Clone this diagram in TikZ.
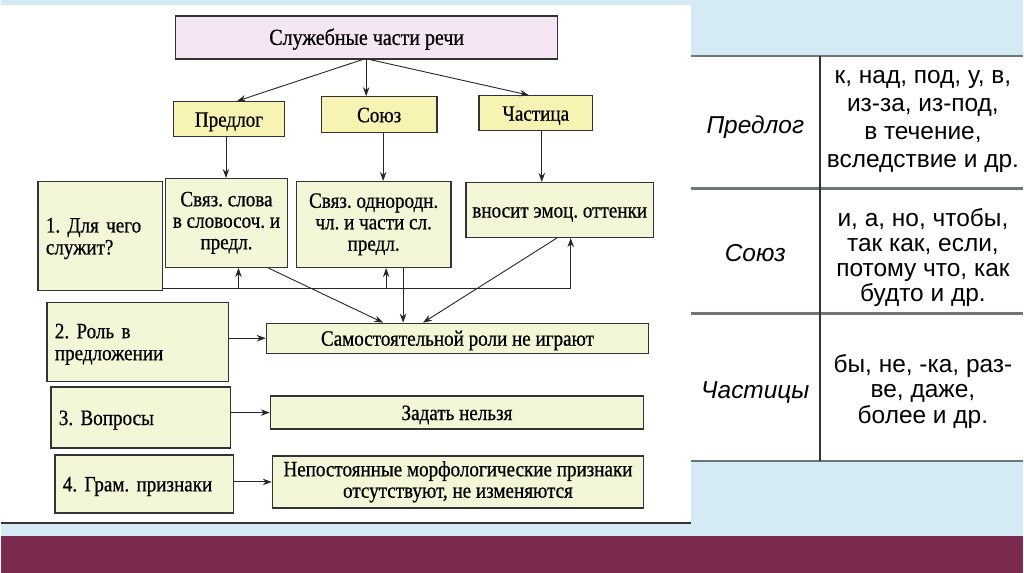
\documentclass[tikz,border=0pt]{standalone}
\usepackage{fontspec}
\setmainfont{Liberation Serif}[FakeStretch=0.87, FakeBold=0.6]
\newfontfamily\tabfont{Liberation Sans}
\usetikzlibrary{arrows.meta}
\definecolor{bgblue}{HTML}{D4EAF5}
\definecolor{maroon}{HTML}{7D2A50}
\definecolor{titlefill}{HTML}{F4E6F2}
\definecolor{hdrfill}{HTML}{F7F4B3}
\definecolor{boxfill}{HTML}{F4F6D8}
\definecolor{boxline}{HTML}{333333}
\definecolor{tabline}{HTML}{6E7677}
\frenchspacing
\begin{document}
\begin{tikzpicture}[x=1pt,y=-1pt,
  struts/.style={execute at begin node={\rule{0pt}{20pt}}, execute at end node={\rule[-5pt]{0pt}{5pt}}},
  cbox/.style={draw=boxline, line width=1.3pt, fill=boxfill, inner sep=0pt, align=center,
    font=\fontsize{22}{21.5}\selectfont, struts},
  lbox/.style={draw=boxline, line width=1.3pt, fill=boxfill, inner xsep=8pt, inner ysep=0pt, align=left,
    font=\fontsize{22}{22}\selectfont, struts},
  arr/.style={line width=0.9pt, draw=black!85, -{Stealth[length=9pt,width=6.5pt]}},
  ln/.style={line width=0.9pt, draw=black!85},
  tabtxt/.style={inner sep=0pt, align=center, text=black}
]
% background
\fill[bgblue] (0,0) rectangle (1024,574);
\fill[white] (0,5) rectangle (692,524);
\draw[boxline, line width=2pt] (0,524) -- (692,524);
\fill[maroon] (0,537) rectangle (1024,574);

% table
\fill[white] (692,56) rectangle (1024,462);
\foreach \yy in {56,189,314,462} \draw[tabline, line width=2.6pt] (692,\yy) -- (1024,\yy);
\draw[boxline, line width=2pt] (821,56) -- (821,462);

\node[tabtxt, font=\tabfont\itshape\fontsize{24.5}{28}\selectfont] (tpl) at (756,127) {Предлог};
\node[tabtxt, font=\tabfont\fontsize{24.5}{28}\selectfont] (tpr) at (924,122) {к, над, под, у, в,\\из-за, из-под,\\в течение,\\вследствие и др.};
\node[tabtxt, font=\tabfont\itshape\fontsize{24.5}{25}\selectfont] (tsl) at (756,254) {Союз};
\node[tabtxt, font=\tabfont\fontsize{24.5}{25}\selectfont] (tsr) at (924,258) {и, а, но, чтобы,\\так как, если,\\потому что, как\\будто и др.};
\node[tabtxt, font=\tabfont\itshape\fontsize{24.5}{25.5}\selectfont] (tcl) at (756,393) {Частицы};
\node[tabtxt, font=\tabfont\fontsize{24.5}{25.5}\selectfont] (tcr) at (924,392) {бы, не, -ка, раз-\\ве, даже,\\более и др.};

% diagram boxes
\node[cbox, fill=titlefill, minimum width=383pt, minimum height=43pt, font=\fontsize{23}{24}\selectfont] (title) at (366.5,37.5) {Служебные части речи};
\node[cbox, fill=hdrfill, minimum width=111pt, minimum height=35pt] (predlog) at (228.5,119.5) {Предлог};
\node[cbox, fill=hdrfill, minimum width=116pt, minimum height=36pt] (soyuz) at (379,115) {Союз};
\node[cbox, fill=hdrfill, minimum width=114pt, minimum height=35pt] (chast) at (536,113.5) {Частица};

\node[lbox, text width=109pt, minimum height=109pt] (b1) at (99.5,236.5) {1. Для чего\\служит?};
\node[cbox, minimum width=122pt, minimum height=89pt] (sv1) at (226,223.5) {Связ. слова\\в словосоч. и\\предл.};
\node[cbox, minimum width=155pt, minimum height=86pt] (sv2) at (373.5,225) {Связ. однородн.\\чл. и части сл.\\предл.};
\node[cbox, minimum width=188pt, minimum height=55pt] (vn) at (560,210.5) {вносит эмоц. оттенки};

\node[lbox, text width=166pt, minimum height=79pt] (b2) at (137,342.5) {2. Роль в\\предложении};
\node[cbox, minimum width=383pt, minimum height=30pt] (sam) at (457.5,339) {Самостоятельной роли не играют};
\node[lbox, text width=164pt, minimum height=61pt] (b3) at (140,418.5) {3. Вопросы};
\node[cbox, minimum width=374pt, minimum height=33pt] (zad) at (457,413.5) {Задать нельзя};
\node[lbox, text width=163pt, minimum height=58pt] (b4) at (143.5,485) {4. Грам. признаки};
\node[cbox, minimum width=372pt, minimum height=52pt] (nep) at (458,483) {Непостоянные морфологические признаки\\отсутствуют, не изменяются};

% connectors top
\draw[arr] ([xshift=-4pt]title.south) -- ([xshift=8pt]predlog.north);
\draw[arr] ([xshift=-0.5pt]title.south) -- ([xshift=-13pt]soyuz.north);
\draw[arr] ([xshift=3pt]title.south) -- ([xshift=-7pt]chast.north);

\draw[arr] ([xshift=-3pt]predlog.south) -- ([xshift=-3pt]predlog.south |- sv1.north);
\draw[arr] ([xshift=4pt]soyuz.south) -- ([xshift=4pt]soyuz.south |- sv2.north);
\draw[arr] ([xshift=6pt]chast.south) -- ([xshift=6pt]chast.south |- vn.north);

% bus
\coordinate (bus) at ([yshift=3pt]b1.south east);
\draw[ln] (bus) -- ([xshift=11pt]vn.south |- bus);
\draw[arr] ([xshift=12pt]sv1.south |- bus) -- ([xshift=12pt]sv1.south);
\draw[arr] ([xshift=12.5pt]sv2.south |- bus) -- ([xshift=12.5pt]sv2.south);
\draw[arr] ([xshift=11pt]vn.south |- bus) -- ([xshift=11pt]vn.south);

% into sam
\draw[arr] ([xshift=42pt]sv1.south) -- ([xshift=-74.5pt]sam.north);
\draw[arr] ([xshift=29.5pt]sv2.south) -- ([xshift=-54.5pt]sam.north);
\draw[arr] ([xshift=-3pt]vn.south) -- ([xshift=-34.5pt]sam.north);

% rows
\draw[arr] (b2.east |- sam.west) -- (sam.west);
\draw[arr] (b3.east |- zad.west) -- (zad.west);
\draw[arr] (b4.east |- nep.west) -- (nep.west);
\end{tikzpicture}
\end{document}
